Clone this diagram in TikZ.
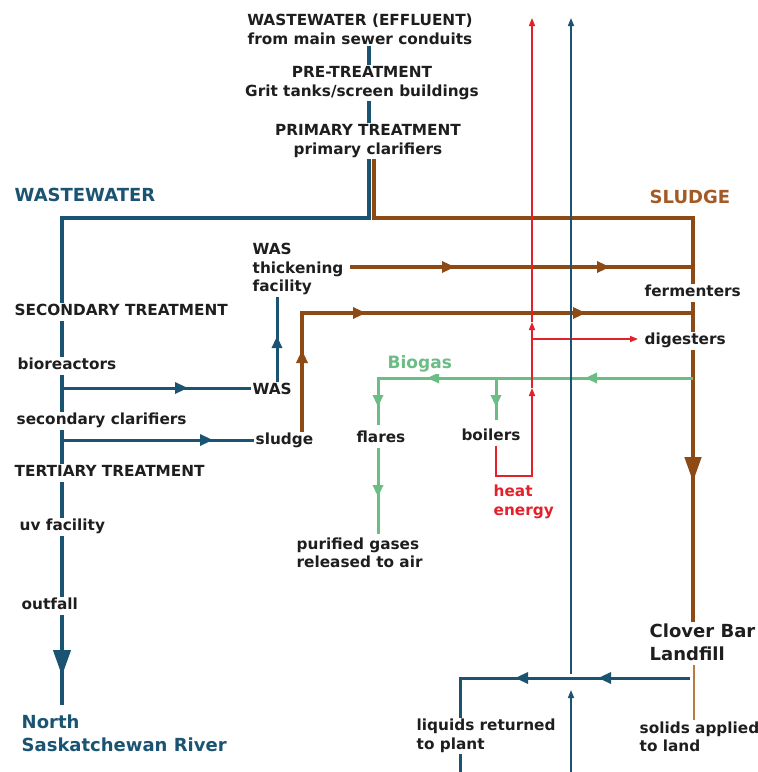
\documentclass[tikz,border=0pt]{standalone}
\usepackage{fontspec}
\setmainfont{DejaVu Sans}
\usetikzlibrary{arrows.meta,decorations.markings,backgrounds}
\definecolor{wblue}{HTML}{1B5472}
\definecolor{sbrown}{HTML}{8E4A14}
\definecolor{hbrown}{HTML}{A35A24}
\definecolor{lbrown}{HTML}{B97A40}
\definecolor{ggreen}{HTML}{6CBD85}
\definecolor{hred}{HTML}{E4202B}
\definecolor{txtc}{HTML}{1E1E1E}
\tikzset{
  txt/.style={font=\fontsize{15.3}{18.5}\selectfont\bfseries, text=txtc, fill=white, inner sep=1.5pt, align=left},
  one/.style={text height=11pt, text depth=3.5pt},
  hd/.style={font=\fontsize{18}{23}\selectfont\bfseries, fill=white, inner sep=1.5pt, align=left},
  am/.style args={#1:#2}{postaction={decorate,decoration={markings,mark=at position #1 with {\arrow{#2}}}}},
  wl/.style={draw=wblue, line width=4pt},
  wlt/.style={draw=wblue, line width=3pt},
  bl/.style={draw=sbrown, line width=4.5pt},
  blt/.style={draw=sbrown, line width=3.5pt},
  gl/.style={draw=ggreen, line width=3pt},
  rl/.style={draw=hred, line width=1.5pt},
  tbl/.style={draw=wblue, line width=1.5pt},
}
\begin{document}
\begin{tikzpicture}[x=1pt,y=-1pt]
\useasboundingbox (0,0) rectangle (758,772);
% ---------- text nodes ----------
\node[txt, align=center] (n0) at (360,29.5) {WASTEWATER (EFFLUENT)\\from main sewer conduits};
\node[txt, align=center] (n1) at (362,83) {PRE-TREATMENT\\Grit tanks/screen buildings};
\node[txt, align=center] (n2) at (368,141) {PRIMARY TREATMENT\\primary clarifiers};
\node[hd, text=wblue, anchor=west, one] (wwlab) at (13,198) {WASTEWATER};
\node[hd, text=hbrown, anchor=west, one] (sllab) at (648,200) {SLUDGE};
\node[txt, one, anchor=west] (sec) at (13,312) {SECONDARY TREATMENT};
\node[txt, one, anchor=west] (bio) at (16,366) {bioreactors};
\node[txt, one, anchor=west] (scl) at (15,421) {secondary clarifiers};
\node[txt, one, anchor=west] (ter) at (13,473) {TERTIARY TREATMENT};
\node[txt, one, anchor=west] (uv) at (18,527) {uv facility};
\node[txt, one, anchor=west] (out) at (20,606) {outfall};
\node[hd, text=wblue, anchor=west] (nsr) at (20,733) {North\\Saskatchewan River};
\node[txt, anchor=west] (thick) at (251,269) {WAS\\thickening\\facility};
\node[txt, one, anchor=west] (was) at (251,391) {WAS};
\node[txt, one, anchor=west] (sludge) at (254,441) {sludge};
\node[hd, one, text=ggreen, anchor=west, font=\fontsize{17}{20}\selectfont\bfseries] (biogas) at (386,365) {Biogas};
\node[txt, one] (flares) at (381,439) {flares};
\node[txt, one] (boilers) at (491,437) {boilers};
\node[txt, anchor=west] (pur) at (295,553) {purified gases\\released to air};
\node[txt, text=hred, anchor=west] (heat) at (492,502) {heat\\energy};
\node[txt, one, anchor=west] (ferm) at (643,293) {fermenters};
\node[txt, one, anchor=west] (dig) at (643,341) {digesters};
\node[hd, text=txtc, anchor=west] (clover) at (648,642) {Clover Bar\\Landfill};
\node[txt, anchor=west] (liq) at (415,736) {liquids returned\\to plant};
\node[txt, anchor=west] (sol) at (638,737) {solids applied\\to land};
% ---------- junction coordinates ----------
\coordinate (top) at (369,40);
\coordinate (wsplit) at (369,218);
\coordinate (wcorner) at (62,218);
\coordinate (wend) at (62,705);
\coordinate (btop) at (374,150);
\coordinate (bsplit) at (374,218);
\coordinate (bcorner) at (693,218);
\coordinate (bend) at (693,640);
\coordinate (j1) at (62,388);
\coordinate (j2) at (62,440);
\coordinate (wasx) at (277,388);
\coordinate (thx) at (350,267);
\coordinate (th2) at (693,267);
\coordinate (sl1) at (302,440);
\coordinate (sl2) at (302,313);
\coordinate (sl3) at (693,313);
\coordinate (g0) at (693,378);
\coordinate (g1) at (378,378);
\coordinate (g2) at (378,425);
\coordinate (g3) at (496,378);
\coordinate (g4) at (496,420);
\coordinate (g5) at (378,448);
\coordinate (g6) at (378,534);
\coordinate (r0) at (496,445);
\coordinate (r1) at (496,476);
\coordinate (r2) at (532,476);
\coordinate (r3) at (532,388);
\coordinate (r4) at (532,322);
\coordinate (r5) at (532,18);
\coordinate (r6) at (532,339);
\coordinate (r7) at (638,339);
\coordinate (t0) at (571,772);
\coordinate (t1) at (571,690);
\coordinate (t2) at (571,674);
\coordinate (t3) at (571,18);
\coordinate (c0) at (690,678);
\coordinate (c1) at (460,678);
\coordinate (c2) at (460,772);
\coordinate (s0) at (694,665);
\coordinate (s1) at (694,722);
% ---------- connectors ----------
\begin{scope}[on background layer]
\fill[white] (0,0) rectangle (758,772);
% wastewater main line
\draw[wl, am={943pt:{Triangle[length=26pt,width=17pt]}}] (top) -- (wsplit) -- (wcorner) -- (wend);
% sludge main line
\draw[bl, am={651pt:{Triangle[length=25pt,width=16pt]}}] (btop) -- (bsplit) -- (bcorner) -- (bend);
% branches to WAS and sludge
\draw[wlt, am={126pt:{Triangle[length=13pt,width=11pt]}}] (j1) -- (j1 -| was.west);
\draw[wlt, am={151pt:{Triangle[length=13pt,width=11pt]}}] (j2) -- (j2 -| sludge.west);
\draw[wlt, am={52pt:{Triangle[length=12pt,width=10pt]}}] (wasx) -- (wasx |- thick.south);
% brown flows
\draw[blt, am={105pt:{Triangle[length=13pt,width=11pt]}}, am={260pt:{Triangle[length=13pt,width=11pt]}}] (thx) -- (th2);
\draw[blt, am={90pt:{Triangle[length=13pt,width=11pt]}}, am={191pt:{Triangle[length=13pt,width=11pt]}}, am={411pt:{Triangle[length=13pt,width=11pt]}}] (sl1) -- (sl2) -- (sl3);
\draw[draw=lbrown, line width=2.5pt] (s0) -- (s1);
% biogas
\draw[gl, am={108pt:{Triangle[length=12pt,width=10pt]}}, am={266pt:{Triangle[length=12pt,width=10pt]}}, am={344pt:{Triangle[length=12pt,width=10pt]}}] (g0) -- (g1) -- (g2);
\draw[gl, am={29pt:{Triangle[length=12pt,width=10pt]}}] (g3) -- (g4);
\draw[gl, am={49pt:{Triangle[length=12pt,width=10pt]}}] (g5) -- (g6);
% heat energy
\draw[rl, -{Triangle[length=8pt,width=6pt]}] (r0) -- (r1) -- (r2) -- (r3);
\draw[rl, -{Triangle[length=8pt,width=6pt]}] (r3) -- (r4);
\draw[rl, -{Triangle[length=8pt,width=6pt]}] (r4) -- (r5);
\draw[rl, -{Triangle[length=8pt,width=6pt]}] (r6) -- (r7);
% thin blue line
\draw[tbl, -{Triangle[length=8pt,width=6pt]}] (t0) -- (t1);
\draw[tbl, -{Triangle[length=8pt,width=6pt]}] (t2) -- (t3);
% liquids returned
\draw[wlt, am={92pt:{Triangle[length=13pt,width=11pt]}}, am={175pt:{Triangle[length=13pt,width=11pt]}}] (c0) -- (c1) -- (c2);
\end{scope}
\end{tikzpicture}
\end{document}
